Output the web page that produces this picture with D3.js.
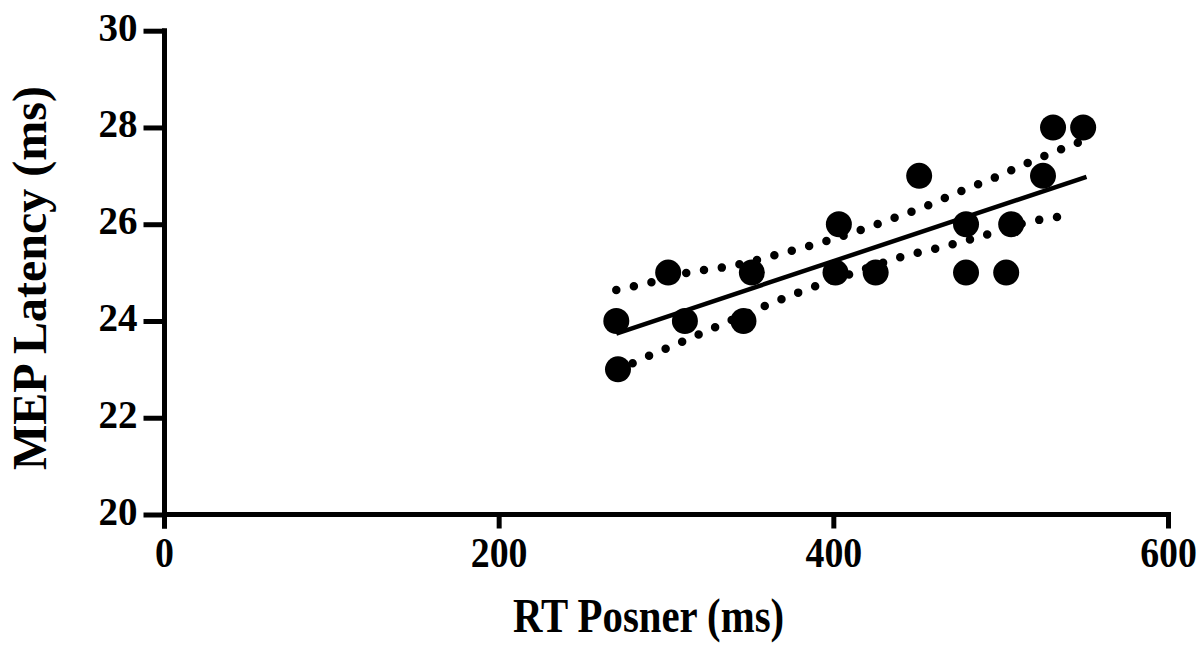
<!DOCTYPE html>
<html>
<head>
<meta charset="utf-8">
<script src="https://cdn.jsdelivr.net/npm/d3@7"></script>
<style>
  body { margin: 0; background: #fff; }
  text { font-family: "Liberation Serif", "Times New Roman", serif; font-weight: bold; fill: #000; }
</style>
</head>
<body>
<div id="chart"></div>
<script>
// data
const rtPosner = [270, 271, 301, 311, 351, 346, 403, 401, 425, 451, 479, 479, 506, 503, 525, 531, 549];
const mepLatency = [24, 23, 25, 24, 25, 24, 26, 25, 25, 27, 26, 25, 26, 25, 27, 28, 28];

const fitX = [270, 551];
const fitY = [23.74, 26.98];

const upperX = [270, 292, 314, 336, 369, 401, 433, 454, 475, 496, 516, 547];
const upperY = [24.64, 24.81, 25.01, 25.12, 25.40, 25.71, 26.09, 26.36, 26.67, 26.96, 27.27, 27.70];
const lowerX = [270, 285, 306, 327, 358, 379, 410, 442, 464, 485, 517, 540];
const lowerY = [22.97, 23.21, 23.52, 23.84, 24.30, 24.59, 24.97, 25.34, 25.52, 25.72, 26.05, 26.18];

const xTicks = [0, 200, 400, 600];
const yTicks = [20, 22, 24, 26, 28, 30];

const width = 1199, height = 646;
const svg = d3.select("#chart").append("svg")
    .attr("width", width)
    .attr("height", height);

const x = d3.scaleLinear().domain([0, 600]).range([164.5, 1168.5]);
const y = d3.scaleLinear().domain([20, 30]).range([514.5, 30.7]);

// y axis
const yAxis = svg.append("g")
    .attr("transform", `translate(${x(0)},0)`)
    .call(d3.axisLeft(y).tickValues(yTicks).tickSize(21).tickSizeOuter(0).tickPadding(6));
yAxis.select(".domain").attr("stroke", "#000").attr("stroke-width", 5)
    .attr("d", `M0,${y(30) - 2.5}V${y(20) + 14}`);
yAxis.selectAll(".tick line").attr("stroke", "#000").attr("stroke-width", 5);
yAxis.selectAll(".tick text")
    .attr("font-size", 39)
    .attr("dy", null)
    .attr("y", 9.5);

// x axis
const xAxis = svg.append("g")
    .attr("transform", `translate(0,${y(20)})`)
    .call(d3.axisBottom(x).tickValues(xTicks).tickSize(14).tickSizeOuter(0).tickFormat(d3.format("d")));
xAxis.select(".domain").attr("stroke", "#000").attr("stroke-width", 5)
    .attr("d", `M${x(0)},0H${x(600) + 2.5}`);
xAxis.selectAll(".tick line").attr("stroke", "#000").attr("stroke-width", 5);
xAxis.selectAll(".tick text")
    .attr("font-size", 42)
    .attr("dy", null)
    .attr("y", 53)
    .attr("transform", function() {
        return "scale(0.9,1)";
    })
    .attr("x", 0);
xAxis.selectAll(".tick").each(function(d) {
    d3.select(this).attr("transform", `translate(${x(d)},0)`);
});

// axis titles
svg.append("text")
    .attr("transform", `translate(${(x(0) + x(600)) / 2 - 18},632) scale(0.85,1)`)
    .attr("text-anchor", "middle")
    .attr("font-size", 48)
    .text("RT Posner (ms)");

svg.append("text")
    .attr("transform", `translate(46,${278}) rotate(-90)`)
    .attr("text-anchor", "middle")
    .attr("font-size", 48)
    .text("MEP Latency (ms)");

// confidence bands
const line = d3.line().x(d => x(d[0])).y(d => y(d[1])).curve(d3.curveMonotoneX);

svg.append("path")
    .attr("d", line(d3.zip(upperX, upperY)))
    .attr("fill", "none").attr("stroke", "#000")
    .attr("stroke-width", 8.5).attr("stroke-linecap", "round")
    .attr("stroke-dasharray", "0 18");

svg.append("path")
    .attr("d", line(d3.zip(lowerX, lowerY)))
    .attr("fill", "none").attr("stroke", "#000")
    .attr("stroke-width", 8.5).attr("stroke-linecap", "round")
    .attr("stroke-dasharray", "0 18");

// fit line
svg.append("path")
    .attr("d", d3.line().x(d => x(d[0])).y(d => y(d[1]))(d3.zip(fitX, fitY)))
    .attr("fill", "none").attr("stroke", "#000").attr("stroke-width", 4.5);

// points
svg.append("g").selectAll("circle")
    .data(d3.zip(rtPosner, mepLatency))
    .join("circle")
    .attr("cx", d => x(d[0]))
    .attr("cy", d => y(d[1]))
    .attr("r", 13)
    .attr("fill", "#000");
</script>
</body>
</html>
